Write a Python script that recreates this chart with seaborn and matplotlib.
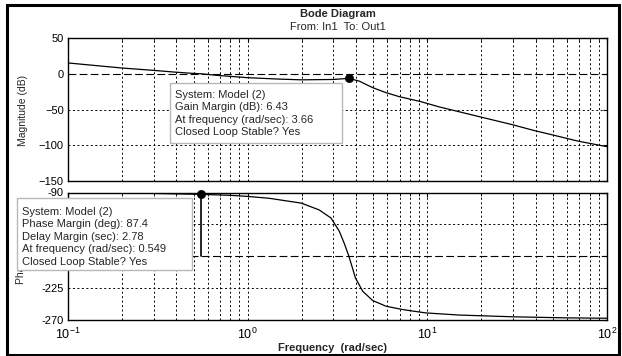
import matplotlib
matplotlib.use("Agg")
import matplotlib.pyplot as plt
import seaborn as sns
from matplotlib.patches import Rectangle
from matplotlib.transforms import Bbox

sns.set_theme(style="white")
plt.rcParams["font.family"] = ["Liberation Sans", "DejaVu Sans"]

# data
freq_mag = [0.1, 0.2, 0.3, 0.393, 0.497, 0.549, 0.68, 1.0, 1.5, 2.0, 3.0, 3.66,
            4.2, 4.56, 4.97, 5.9, 6.97, 9.2, 11.7, 19.9, 29.9, 39.3, 49.7, 68.3, 100]
mag_db = [15.1, 8.0, 4.7, 2.3, 0.5, 0.0, -2.3, -5.5, -7.5, -8.5, -8.0, -6.43,
          -10.5, -15, -19.5, -26.5, -32, -39, -46.5, -60.6, -71.4, -79.4, -85.5, -94, -102]

freq_ph = [0.1, 0.2, 0.3, 0.549, 0.8, 1.0, 1.32, 1.99, 2.5, 2.91, 3.24, 3.45, 3.66,
           3.98, 4.37, 4.97, 5.9, 7.3, 9.8, 15, 30, 60, 100]
phase_deg = [-90.3, -90.8, -91.3, -92.6, -94, -95.5, -98.2, -105, -114.6, -126, -145,
             -162, -180, -210.7, -229.5, -242.6, -250.6, -255.3, -260, -263, -265.5,
             -267, -267.5]

gm_freq, gm_db = 3.66, -6.43
pm_freq, pm_phase = 0.549, -92.6

mag_ticks = [-150, -100, -50, 0, 50]
phase_ticks = [-270, -225, -180, -135, -90]
phase_tick_labels = ["-270", "-225", "", "", "-90"]  # middle two sit under the data tip

gm_tip = ["System: Model (2)", "Gain Margin (dB): 6.43",
          "At frequency (rad/sec): 3.66", "Closed Loop Stable? Yes"]
pm_tip = ["System: Model (2)", "Phase Margin (deg): 87.4", "Delay Margin (sec): 2.78",
          "At frequency (rad/sec): 0.549", "Closed Loop Stable? Yes"]

W, H = 622, 356


def fx(px):
    return px / W


def fy(py):
    return 1 - py / H


fig = plt.figure(figsize=(W / 100, H / 100), dpi=100)
ax_mag = fig.add_axes([fx(68), fy(181), 539 / W, 143 / H])
ax_ph = fig.add_axes([fx(68), fy(320), 539 / W, 127.5 / H], sharex=ax_mag)

dot = (0, (2, 2.6))
dash = (0, (7, 3))

for ax in (ax_mag, ax_ph):
    ax.set_xscale("log")
    ax.set_xlim(0.1, 100)
    ax.grid(which="both", axis="x", color="black", lw=0.7, ls=dot)
    ax.grid(False, axis="y")
    ax.tick_params(which="both", direction="in", top=True, right=True,
                   labelsize=8, colors="black", pad=3)
    ax.tick_params(which="major", length=3, width=0.8)
    ax.tick_params(which="minor", length=2, width=0.6)
    for s in ax.spines.values():
        s.set_color("black")
        s.set_linewidth(1.0)

# magnitude
sns.lineplot(x=freq_mag, y=mag_db, ax=ax_mag, color="black", lw=0.9, zorder=3)
ax_mag.set_ylim(-150, 50)
ax_mag.set_yticks(mag_ticks)
for v in (-50, -100):
    ax_mag.axhline(v, color="black", lw=0.7, ls=dot, zorder=1)
ax_mag.axhline(0, color="black", lw=0.8, ls=dash, zorder=1)
ax_mag.plot([gm_freq, gm_freq], [0, gm_db], color="black", lw=1)
sns.scatterplot(x=[gm_freq], y=[gm_db], ax=ax_mag, color="black", s=35,
                edgecolor="black", zorder=4)
ax_mag.tick_params(labelbottom=False)
ax_mag.set_xlabel("")
ax_mag.set_ylabel("")

# phase
sns.lineplot(x=freq_ph, y=phase_deg, ax=ax_ph, color="black", lw=0.9, zorder=3)
ax_ph.set_ylim(-270, -90)
ax_ph.set_yticks(phase_ticks)
ax_ph.set_yticklabels(phase_tick_labels)
for v in (-135, -225):
    ax_ph.axhline(v, color="black", lw=0.7, ls=dot, zorder=1)
ax_ph.axhline(-180, color="black", lw=0.8, ls=dash, zorder=1)
ax_ph.plot([pm_freq, pm_freq], [-180, pm_phase], color="black", lw=1.2)
sns.scatterplot(x=[pm_freq], y=[pm_phase], ax=ax_ph, color="black", s=35,
                edgecolor="black", zorder=4, clip_on=False)
ax_ph.tick_params(axis="x", labelsize=9, pad=5)
ax_ph.set_xlabel("")
ax_ph.set_ylabel("")

# titles and labels
fig.text(fx(337.5), fy(14), "Bode Diagram", ha="center", va="center",
         fontsize=8, fontweight="bold")
fig.text(fx(337.5), fy(27), "From: In1  To: Out1", ha="center", va="center", fontsize=8)
fig.text(fx(333), fy(348), "Frequency  (rad/sec)", ha="center", va="center",
         fontsize=8, fontweight="bold")
fig.text(fx(23), fy(110), "Magnitude (dB)", ha="center", va="center",
         rotation=90, fontsize=7.5)
# the phase label is mostly covered by the data tip; only its start shows
ph_label = fig.text(fx(21), fy(256), "Phase (deg)", ha="center", va="center",
                    rotation=90, fontsize=7.5)
ph_label.set_clip_box(Bbox.from_extents(0, 0, W, H - 271))
ph_label.set_clip_on(True)

# data tip boxes
fig.add_artist(Rectangle((fx(170), fy(143)), 172 / W, 60 / H, transform=fig.transFigure,
                         facecolor="white", edgecolor="#b8b8b8", lw=1, zorder=5))
for i, line in enumerate(gm_tip):
    fig.text(fx(175), fy(95 + 12.4 * i), line, ha="left", va="center",
             fontsize=8, zorder=6)

fig.add_artist(Rectangle((fx(17), fy(270)), 175 / W, 72 / H, transform=fig.transFigure,
                         facecolor="white", edgecolor="#b8b8b8", lw=1, zorder=5))
for i, line in enumerate(pm_tip):
    fig.text(fx(22), fy(211.7 + 12.5 * i), line, ha="left", va="center",
             fontsize=8, zorder=6)

# outer frame
fig.add_artist(Rectangle((fx(7), fy(355)), 612 / W, 350 / H, transform=fig.transFigure,
                         fill=False, edgecolor="black", lw=2.2, zorder=7))

fig.savefig("out.png", dpi=100)
